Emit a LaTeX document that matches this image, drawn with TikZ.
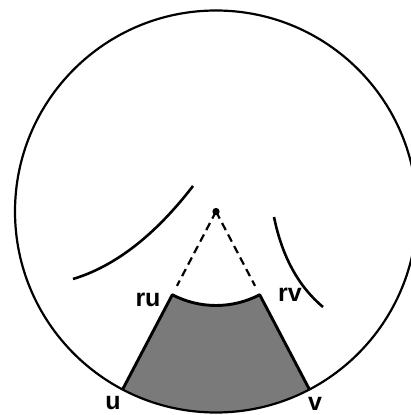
\documentclass[tikz,border=0pt]{standalone}
\usepackage{fontspec}
\setmainfont{Liberation Sans}
\usetikzlibrary{calc}
\begin{document}
\begin{tikzpicture}[x=1pt,y=1pt,
  rim/.style={line width=2.2pt},
  arcline/.style={line width=2.6pt},
  edge/.style={line width=2.9pt},
  dashline/.style={line width=2.2pt,dash pattern=on 8pt off 5pt},
  lbl/.style={inner sep=0pt,font=\fontsize{25}{25}\selectfont\bfseries}]
\useasboundingbox (0,0) rectangle (411,415);
\coordinate (c) at (216,203.5);
\coordinate (ru) at ($(c)+(242.3:94)$);
\coordinate (rv) at ($(c)+(297.7:94)$);
\coordinate (u) at ($(c)+(242.3:201)$);
\coordinate (v) at ($(c)+(297.7:201)$);
\coordinate (ruend) at ($(c)+(242.3:84)$);
\coordinate (rvend) at ($(c)+(297.7:84)$);
% shaded sector
\fill[black!52] (ru) -- (u) arc[start angle=242.3,end angle=297.7,radius=201] -- (rv) arc[start angle=297.7,end angle=242.3,radius=94] -- cycle;
\draw[edge,line join=round] (u) -- (ru) arc[start angle=242.3,end angle=297.7,radius=94] -- (v);
% big circle
\draw[rim] (c) circle[radius=201];
% dashed radii
\draw[dashline] (c) -- (ruend);
\draw[dashline] (c) -- (rvend);
\fill (c) circle[radius=3.6];
% curves
\coordinate (la) at (73,136);
\coordinate (lb) at (193,229);
\draw[arcline] (la) .. controls ($(la)!2/3!(136,155)$) and ($(lb)!2/3!(136,155)$) .. (lb);
\coordinate (ra) at (274,198);
\coordinate (rb) at (323,108);
\draw[arcline] (ra) .. controls ($(ra)!2/3!(286,139)$) and ($(rb)!2/3!(286,139)$) .. (rb);
% labels
\node[lbl] (lru) at (148,115) {ru};
\node[lbl] (lrv) at (290,120) {rv};
\node[lbl] (lu) at (113,11.5) {u};
\node[lbl] (lv) at (315,11.5) {v};
\end{tikzpicture}
\end{document}
